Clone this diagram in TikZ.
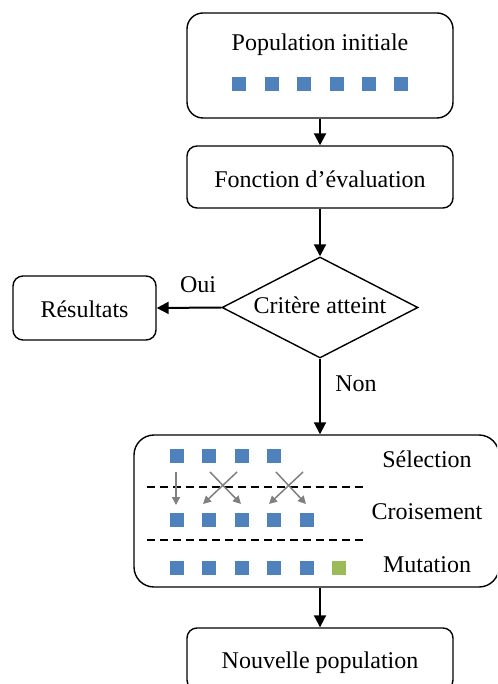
\documentclass[tikz,border=0pt]{standalone}
\usepackage{fontspec}
\setmainfont{Liberation Serif}
\usetikzlibrary{shapes.geometric,arrows.meta}
\definecolor{sqblue}{RGB}{79,129,189}
\definecolor{sqgreen}{RGB}{155,187,89}
\definecolor{arrgray}{RGB}{128,128,128}
\tikzset{
  box/.style={draw=black, line width=1.4pt, rounded corners=#1, inner sep=0pt},
  box/.default=10pt,
  txt/.style={anchor=base, inner sep=0pt, font=\fontsize{24}{28}\selectfont},
  sq/.style={fill=sqblue, minimum size=14pt, inner sep=0pt},
  sqg/.style={fill=sqgreen, minimum size=14pt, inner sep=0pt},
  flow/.style={line width=2pt, -{Triangle[length=12pt,width=12pt]}},
  cross/.style={draw=arrgray, line width=1.5pt, -{Triangle[length=8pt,width=8pt]}},
  sep/.style={draw=black, line width=1.5pt, dash pattern=on 8pt off 5pt},
}
\begin{document}
\begin{tikzpicture}[x=1pt,y=-1pt]
\clip (0,0) rectangle (497,684);
\fill[white] (0,0) rectangle (497,684);

% boxes
\node[box=16pt, minimum width=266pt, minimum height=105pt] (init) at (320,65.5) {};
\node[txt] (initT) at (320,51) {Population initiale};
\foreach \i/\x in {1/239,2/271.5,3/304,4/336.5,5/369,6/401}
  \node[sq] (p\i) at (\x,84) {};

\node[box, minimum width=266pt, minimum height=62pt] (eval) at (320,177) {};
\node[txt] (evalT) at (320,188) {Fonction d’évaluation};

\node[draw=black, line width=1.4pt, shape=diamond, minimum width=196pt, minimum height=101pt, inner sep=0pt] (crit) at (320,307.5) {};
\node[txt] (critT) at (320,313) {Critère atteint};

\node[box, minimum width=143pt, minimum height=64pt] (res) at (84.5,308) {};
\node[txt] (resT) at (84.5,317) {Résultats};

\node[txt] (oui) at (198,292) {Oui};
\node[txt] (non) at (356,391) {Non};

\node[box=20pt, minimum width=365pt, minimum height=152pt] (ga) at (316.5,511) {};

\node[box, minimum width=266pt, minimum height=62pt] (nouv) at (320,659) {};
\node[txt] (nouvT) at (320,668) {Nouvelle population};

% genetic operators
\foreach \i/\x in {1/177,2/209,3/242,4/274}
  \node[sq] (s\i) at (\x,456) {};
\foreach \i/\x in {1/177,2/209,3/242,4/274,5/307}
  \node[sq] (c\i) at (\x,519.5) {};
\foreach \i/\x in {1/177,2/209,3/242,4/274,5/307}
  \node[sq] (m\i) at (\x,567.5) {};
\node[sqg] (m6) at (339,567.5) {};

\node[txt] (selT) at (427,467) {Sélection};
\node[txt] (croT) at (427,519) {Croisement};
\node[txt] (mutT) at (427,572) {Mutation};

\coordinate (d1a) at (147,487);
\coordinate (d1b) at (367,487);
\coordinate (d2a) at (147,540);
\coordinate (d2b) at (367,540);
\draw[sep] (d1a) -- (d1b);
\draw[sep] (d2a) -- (d2b);

\coordinate (a0) at (176,472); \coordinate (b0) at (176,505);
\coordinate (a1) at (210,472); \coordinate (b1) at (241,504);
\coordinate (a2) at (237,472); \coordinate (b2) at (203,504);
\coordinate (a3) at (276,472); \coordinate (b3) at (306,504);
\coordinate (a4) at (303,472); \coordinate (b4) at (269,504);
\draw[cross] (a0) -- (b0);
\draw[cross] (a1) -- (b1);
\draw[cross] (a2) -- (b2);
\draw[cross] (a3) -- (b3);
\draw[cross] (a4) -- (b4);

% flow connectors
\draw[flow] (init.south) -- (eval.north);
\draw[flow] (eval.south) -- (crit.north);
\draw[flow] (crit.west) -- (res.east);
\draw[flow] (crit.south) -- (crit.south |- ga.north);
\draw[flow] (ga.south -| nouv.north) -- (nouv.north);
\end{tikzpicture}
\end{document}
